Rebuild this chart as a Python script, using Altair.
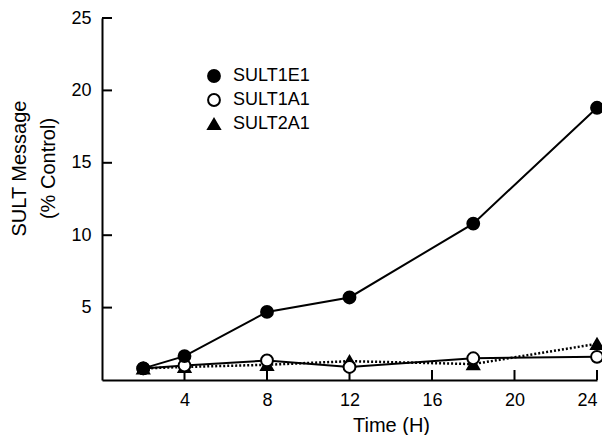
import altair as alt
import pandas as pd

time_h = [2, 4, 8, 12, 18, 24]
sult1e1 = [0.8, 1.65, 4.7, 5.7, 10.8, 18.8]
sult1a1 = [0.8, 1.0, 1.35, 0.9, 1.5, 1.6]
sult2a1 = [0.8, 0.9, 1.05, 1.3, 1.1, 2.5]
series_names = ["SULT1E1", "SULT1A1", "SULT2A1"]
x_ticks = [4, 8, 12, 16, 20, 24]
y_ticks = [5, 10, 15, 20, 25]

W, H = 495, 362
FONT = "Liberation Sans"

values_by_series = {"SULT1E1": sult1e1, "SULT1A1": sult1a1, "SULT2A1": sult2a1}
rows = []
for name in reversed(series_names):
    for t, v in zip(time_h, values_by_series[name]):
        rows.append({"time": t, "value": v, "series": name})
df = pd.DataFrame(rows)

xscale = alt.Scale(domain=[0, 24], nice=False, zero=False)
yscale = alt.Scale(domain=[0, 25], nice=False)

x_enc = alt.X("time:Q", scale=xscale,
              axis=alt.Axis(values=x_ticks, title="Time (H)", ticks=False, grid=False,
                            labelPadding=11, titleX=289, titleY=51, titleBaseline="alphabetic",
                            titleFontSize=20,
                            domainWidth=2, domainColor="black"))
y_enc = alt.Y("value:Q", scale=yscale,
              axis=alt.Axis(values=y_ticks, title=["SULT Message", "(% Control)"], ticks=False,
                            grid=False, labelPadding=11, titleX=-93, titleY=150,
                            titleBaseline="top", titleLineHeight=29, titleFontSize=20,
                            domainWidth=2, domainColor="black"))

solid = alt.Chart(df).transform_filter(
    alt.FieldOneOfPredicate(field="series", oneOf=series_names[:2])
).mark_line(color="black", strokeWidth=2).encode(x=x_enc, y=y_enc, detail="series:N")

dotted = alt.Chart(df).transform_filter(
    alt.FieldEqualPredicate(field="series", equal=series_names[2])
).mark_line(color="black", strokeWidth=2.5, strokeDash=[2, 2]).encode(
    x="time:Q", y="value:Q")

def leg():
    return alt.Legend(orient="none", legendX=103, legendY=49, title=None, padding=0,
                      labelFont=FONT, labelFontSize=18, labelColor="black",
                      rowPadding=4, labelOffset=10, symbolStrokeWidth=2, symbolSize=140)

points = alt.Chart(df).mark_point(strokeWidth=2, opacity=1, fillOpacity=1,
                                  size=140).encode(
    x="time:Q", y="value:Q",
    shape=alt.Shape("series:N", scale=alt.Scale(domain=series_names,
                    range=["circle", "circle", "triangle-up"]), legend=leg()),
    fill=alt.Fill("series:N", scale=alt.Scale(domain=series_names,
                  range=["black", "white", "black"]), legend=leg()),
    stroke=alt.Stroke("series:N", scale=alt.Scale(domain=series_names,
                      range=["black", "black", "black"]), legend=leg()),
)

xt = pd.DataFrame({"t": x_ticks})
yt = pd.DataFrame({"v": y_ticks})
xticks = alt.Chart(xt).mark_rule(color="black", strokeWidth=2).encode(
    x=alt.X("t:Q", scale=xscale), y=alt.value(H), y2=alt.value(H - 10))
yticks = alt.Chart(yt).mark_rule(color="black", strokeWidth=2).encode(
    y=alt.Y("v:Q", scale=yscale), x=alt.value(0), x2=alt.value(10))

chart = alt.layer(solid, dotted, xticks, yticks, points).properties(
    width=W, height=H,
    autosize=alt.AutoSizeParams(type="none"),
    padding={"left": 94, "top": 10, "right": 5, "bottom": 55},
).configure_view(stroke=None).configure_axis(
    labelFont=FONT, titleFont=FONT, labelFontSize=18, titleFontSize=20,
    labelColor="black", titleColor="black", titleFontWeight="normal",
)

chart.save("out.html", embed_options={"renderer": "svg", "actions": False})
